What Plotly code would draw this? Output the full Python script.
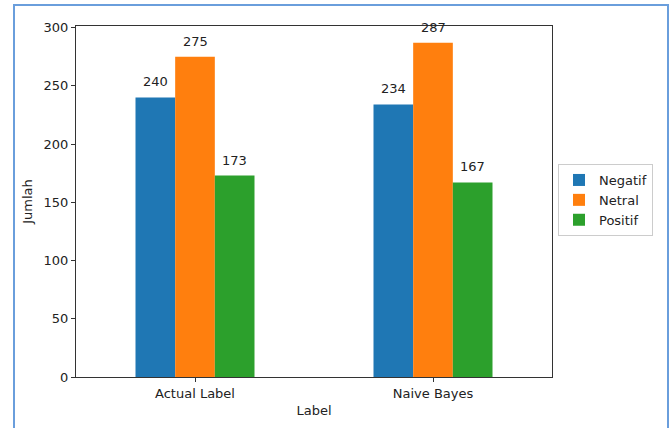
import plotly.graph_objects as go

categories = ["Actual Label", "Naive Bayes"]
series_names = ["Negatif", "Netral", "Positif"]
negatif = [240, 234]
netral = [275, 287]
positif = [173, 167]
colors = ["#1f77b4", "#ff7f0e", "#2ca02c"]
y_ticks = [0, 50, 100, 150, 200, 250, 300]

values = [negatif, netral, positif]
FONT = "DejaVu Sans"

fig = go.Figure()
for name, vals, col in zip(series_names, values, colors):
    fig.add_trace(go.Bar(x=categories, y=vals, name=name, marker=dict(color=col, line=dict(width=0))))

L, R, T, B = 76, 120, 26, 49
W, H = 672, 428
pw = W - L - R
ph = H - T - B
bar_px = pw / 2 * 0.5 / 3

for i, vals in enumerate(values):
    for c, v in zip(categories, vals):
        fig.add_annotation(x=c, y=v, text=str(v), showarrow=False, yanchor="bottom",
                           xshift=(i - 1) * bar_px, yshift=6,
                           font=dict(family=FONT, size=13, color="#222222"))

# outer blue frame
fig.add_shape(type="rect", xref="paper", yref="paper",
              x0=(14 - L) / pw, x1=(668 - L) / pw,
              y0=(H - B - 445) / ph, y1=(H - B - 5) / ph,
              line=dict(color="#6a9edc", width=2), fillcolor="rgba(0,0,0,0)", layer="above")

fig.update_layout(
    width=W, height=H,
    margin=dict(l=L, r=R, t=T, b=B),
    barmode="group", bargap=0.5, bargroupgap=0,
    plot_bgcolor="white", paper_bgcolor="white",
    font=dict(family=FONT, size=13, color="#222222"),
    showlegend=True,
    legend=dict(x=(558 - L) / pw, y=(H - B - 201) / ph, xanchor="left", yanchor="middle",
                bordercolor="#cccccc", borderwidth=1, font=dict(size=13),
                itemwidth=30, tracegroupgap=0),
    xaxis=dict(range=[-0.5, 1.5], showline=True, linecolor="#333333", linewidth=1, mirror=True,
               ticks="outside", ticklen=4, tickcolor="#333333", showgrid=False,
               title=dict(text="Label", standoff=6, font=dict(size=13))),
    yaxis=dict(range=[0, 301.35], tickvals=y_ticks, showline=True, linecolor="#333333", linewidth=1,
               mirror=True, ticks="outside", ticklen=4, tickcolor="#333333", showgrid=False,
               zeroline=False, title=dict(text="Jumlah", standoff=8, font=dict(size=13))),
)

fig.write_html("out.html", config={"displayModeBar": False},
               post_script="document.body.style.margin='0';document.body.style.padding='0';")
